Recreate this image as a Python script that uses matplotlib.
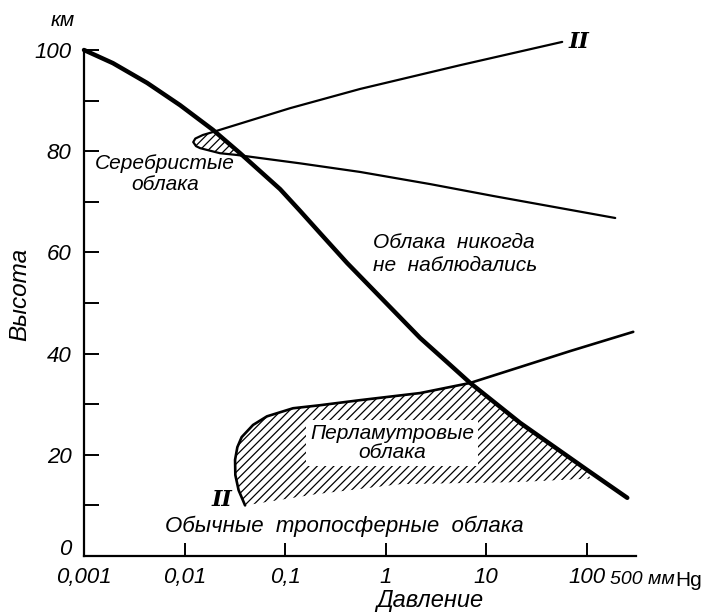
import matplotlib
matplotlib.use("Agg")
import matplotlib.pyplot as plt
from matplotlib.ticker import NullLocator
from matplotlib.transforms import Affine2D

plt.rcParams['font.family'] = ['Liberation Sans', 'DejaVu Sans']
plt.rcParams['hatch.linewidth'] = 0.9

# ---- data (pressure in mm Hg, height in km) ----
thick_p = [0.001, 0.00194, 0.00424, 0.00902, 0.0192, 0.0357, 0.0892, 0.141, 0.223, 0.414,
           0.882, 2.20, 4.09, 6.93, 21.8, 101, 253]
thick_h = [100.0, 97.4, 93.5, 89.1, 84.2, 79.6, 72.5, 68.2, 63.8, 57.9,
           51.2, 43.1, 38.3, 34.2, 26.3, 17.0, 11.5]

# upper curve II + noctilucent loop + lower line
upper_p = [57.0, 5.51, 0.557, 0.112, 0.0192, 0.0152, 0.0128, 0.0122, 0.0130, 0.0143, 0.0225,
           0.0333, 0.141, 0.557, 2.77, 11.75, 192]
upper_h = [101.6, 97.0, 92.3, 88.5, 83.8, 83.2, 82.5, 81.8, 81.0, 80.6, 79.6,
           79.25, 77.6, 75.9, 73.5, 71.15, 66.8]

# noctilucent hatched patch
nlc_p = [0.0192, 0.0152, 0.0128, 0.0122, 0.0130, 0.0143, 0.0225, 0.0345, 0.0192]
nlc_h = [83.8, 83.2, 82.5, 81.8, 81.0, 80.6, 79.6, 79.3, 84.2]

# lower curve II
lower_p = [0.040, 0.0345, 0.0320, 0.0318, 0.0335, 0.037, 0.048, 0.066, 0.12, 0.223, 0.557,
           2.2, 6.93, 21.8, 68.5, 290]
lower_h = [10.0, 13.0, 16.0, 19.0, 21.5, 23.5, 25.9, 27.6, 29.2, 29.8, 30.8,
           32.2, 34.2, 37.35, 40.5, 44.3]

# nacreous hatched patch
pearl_p = [0.040, 0.0345, 0.0320, 0.0318, 0.0335, 0.037, 0.048, 0.066, 0.12, 0.223, 0.557,
           2.2, 6.93, 21.8, 101, 108, 20, 1.4, 0.2, 0.040]
pearl_h = [10.0, 13.0, 16.0, 19.0, 21.5, 23.5, 25.9, 27.6, 29.2, 29.8, 30.8,
           32.2, 34.2, 26.3, 17.0, 15.3, 14.6, 14.2, 12.2, 10.0]

xticks = [0.001, 0.01, 0.1, 1, 10, 100]
xtick_labels = ["0,001", "0,01", "0,1", "1", "10", "100"]
yticks_major = [0, 20, 40, 60, 80, 100]
ytick_labels = ["0", "20", "40", "60", "80", "100"]
yticks_minor = [10, 30, 50, 70, 90]

W, H = 719, 613
fig = plt.figure(figsize=(W / 100, H / 100), dpi=100)
ax = fig.add_axes([84 / W, (H - 556) / H, (636 - 84) / W, (556 - 50) / H])
ax.set_xscale('log')
ax.set_xlim(0.001, 10 ** 2.49)
ax.set_ylim(0, 100)

for s in ['top', 'right']:
    ax.spines[s].set_visible(False)
for s in ['left', 'bottom']:
    ax.spines[s].set_linewidth(1.6)

ax.set_xticks(xticks)
ax.set_xticklabels(xtick_labels)
ax.xaxis.set_minor_locator(NullLocator())
ax.set_yticks(yticks_major)
ax.set_yticklabels(ytick_labels)
ax.set_yticks(yticks_minor, minor=True)
ax.tick_params(axis='both', which='both', direction='in', width=1.4, colors='black')
ax.tick_params(axis='y', which='both', length=10.5, pad=9)
ax.tick_params(axis='x', which='both', length=9.5, pad=8)
for lab in ax.get_xticklabels() + ax.get_yticklabels():
    lab.set_fontsize(16)
    lab.set_fontstyle('italic')

# raise the "0" height label a little, as in the original
t0 = ax.yaxis.get_major_ticks()[0]
t0.label1.set_transform(t0.label1.get_transform() + Affine2D().translate(0, 9))

# hatched regions
ax.fill(nlc_p, nlc_h, facecolor='none', edgecolor='black', hatch='////', linewidth=0)
ax.fill(pearl_p, pearl_h, facecolor='none', edgecolor='black', hatch='////', linewidth=0)

# curves
ax.plot(thick_p, thick_h, color='black', lw=3.2, solid_capstyle='round', solid_joinstyle='round',
        clip_on=False, zorder=5)
ax.plot(upper_p, upper_h, color='black', lw=1.6, solid_capstyle='round', solid_joinstyle='round',
        clip_on=False, zorder=4)
ax.plot(lower_p, lower_h, color='black', lw=1.9, solid_capstyle='round', solid_joinstyle='round',
        clip_on=False, zorder=4)


def ftext(x, y, s, **kw):
    fig.text(x / W, 1 - y / H, s, **kw)


it = dict(fontstyle='italic', color='black')
ftext(63, 20, "км", fontsize=15, ha='center', va='center', **it)
ftext(20, 294, "Высота", fontsize=17.5, rotation=90, ha='center', va='center', **it)
ftext(430, 600, "Давление", fontsize=17, ha='center', va='center', **it)
ftext(610, 580, "500 мм", fontsize=14, ha='left', va='center', **it)
ftext(675, 580, "Hg", fontsize=15, ha='left', va='center', color='black')

ftext(165, 174, "Серебристые\nоблака", fontsize=15, ha='center', va='center',
      linespacing=1.1, **it)
ftext(373, 254, "Облака  никогда\nне  наблюдались", fontsize=15, ha='left', va='center',
      linespacing=1.25, **it)
ftext(344, 526, "Обычные  тропосферные  облака", fontsize=16, ha='center', va='center', **it)
ftext(392, 443, "Перламутровые\nоблака", fontsize=15, ha='center', va='center', linespacing=1.0,
      bbox=dict(facecolor='white', edgecolor='none', pad=3), zorder=6, **it)

rom = dict(family=['DejaVu Serif'], fontweight='bold', fontstyle='italic', color='black', fontsize=16)
ftext(579, 42, "II", ha='center', va='center', **rom)
ftext(222, 500, "II", ha='center', va='center', **rom)

fig.savefig("out.png", dpi=100)
